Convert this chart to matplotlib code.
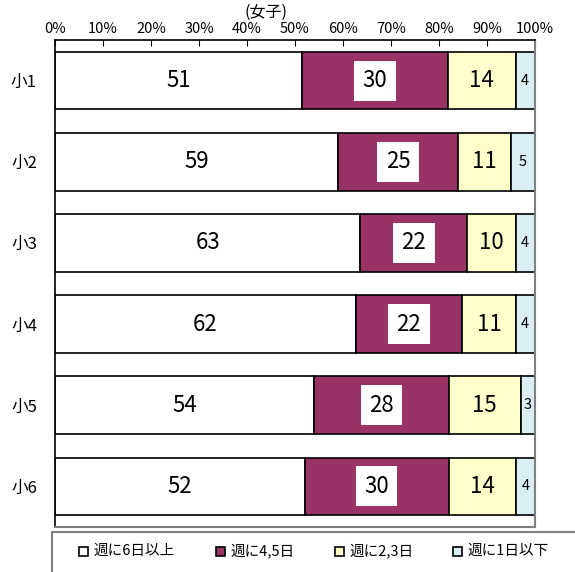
import numpy as np
import matplotlib
matplotlib.use("Agg")
import matplotlib.pyplot as plt
from matplotlib.patches import Rectangle

plt.rcParams['font.family'] = ['Noto Sans CJK JP', 'DejaVu Sans']

grades = ['小1', '小2', '小3', '小4', '小5', '小6']
six_plus = [51, 59, 63, 62, 54, 52]
four_five = [30, 25, 22, 22, 28, 30]
two_three = [14, 11, 10, 11, 15, 14]
one_less = [4, 5, 4, 4, 3, 4]
series_names = ['週に6日以上', '週に4,5日', '週に2,3日', '週に1日以下']
colors = ['#FFFFFF', '#993366', '#FFFFCC', '#DAEEF3']
ticks = [0, 10, 20, 30, 40, 50, 60, 70, 80, 90, 100]

series = [six_plus, four_five, two_three, one_less]
totals = np.sum(series, axis=0)

fig = plt.figure(figsize=(5.75, 5.72), dpi=100)
ax = fig.add_axes([55 / 575, 45 / 572, 480 / 575, 487 / 572])

y = np.arange(len(grades))
left = np.zeros(len(grades))
for k, vals in enumerate(series):
    w = np.array(vals) / totals * 100
    ax.barh(y, w, left=left, height=0.71, color=colors[k],
            edgecolor='black', linewidth=1.2, label=series_names[k])
    for i in range(len(grades)):
        cx = left[i] + w[i] / 2
        if k == 0 or k == 2:
            ax.text(cx, y[i], str(vals[i]), ha='center', va='center', fontsize=16)
        elif k == 1:
            ax.text(cx, y[i], str(vals[i]), ha='center', va='center', fontsize=16,
                    bbox=dict(facecolor='white', edgecolor='none', pad=6))
        else:
            ax.text(cx, y[i], str(vals[i]), ha='center', va='center', fontsize=10.5)
    left += w

ax.set_xlim(0, 100)
ax.set_ylim(5.5, -0.5)
ax.set_xticks(ticks)
ax.set_xticklabels([f'{t}%' for t in ticks], fontsize=10.5)
ax.xaxis.tick_top()
ax.tick_params(axis='x', direction='in', length=4, pad=3)
ax.set_yticks(y)
ax.set_yticklabels(grades, fontsize=12)
ax.tick_params(axis='y', length=0, pad=13)
for s in ['right', 'bottom']:
    ax.spines[s].set_color('#808080')
    ax.spines[s].set_linewidth(1.5)
for s in ['top', 'left']:
    ax.spines[s].set_color('black')
    ax.spines[s].set_linewidth(1.2)

fig.text(266 / 575, 1 - 12 / 572, '(女子)', ha='center', va='center', fontsize=11.5)

# legend box
fig.patches.append(Rectangle((52 / 575, -0.05), 1, (572 - 532) / 572 + 0.05,
                             transform=fig.transFigure, facecolor='white',
                             edgecolor='#808080', linewidth=1.5))
leg_x = [79, 216, 335, 453]
for k in range(4):
    fig.patches.append(Rectangle((leg_x[k] / 575, (572 - 556) / 572), 9 / 575, 9 / 572,
                                 transform=fig.transFigure, facecolor=colors[k],
                                 edgecolor='black', linewidth=1.2))
    fig.text((leg_x[k] + 14) / 575, (572 - 551) / 572, series_names[k],
             ha='left', va='center', fontsize=10.5)

fig.savefig('out.png', dpi=100)
